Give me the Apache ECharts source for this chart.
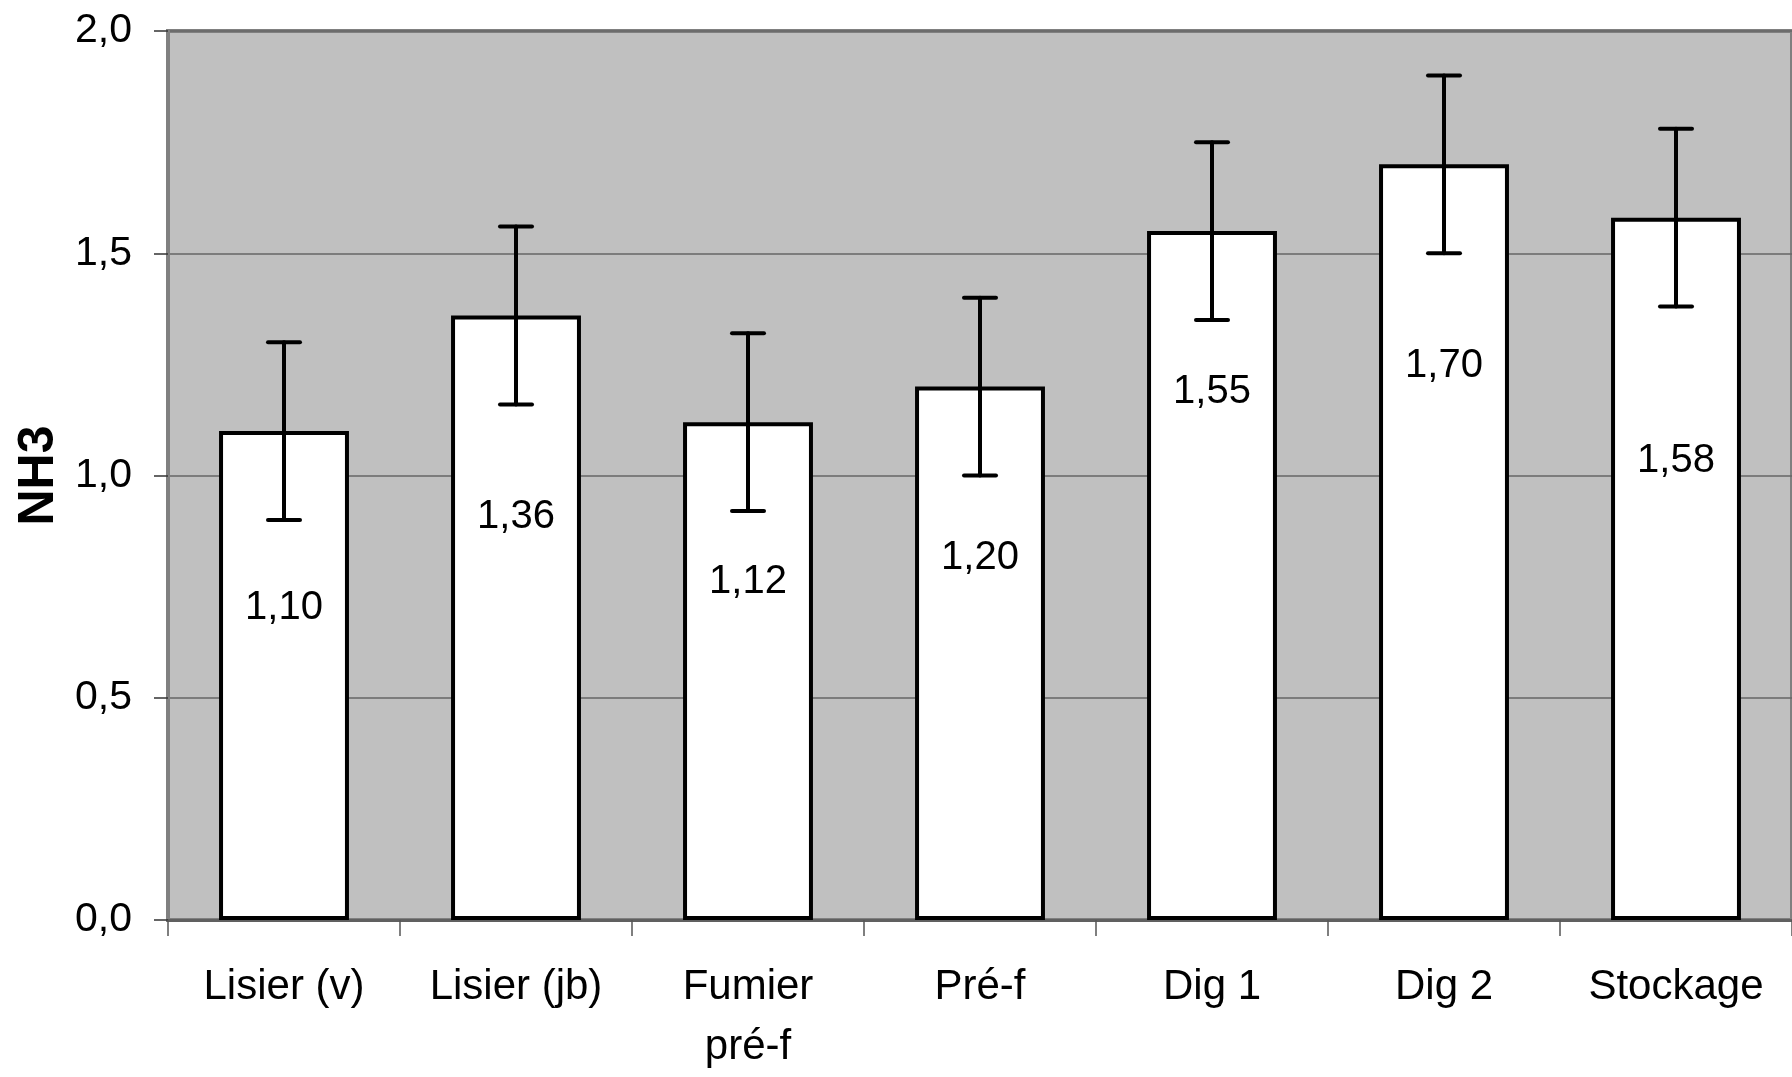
<!DOCTYPE html>
<html>
<head>
<meta charset="utf-8">
<script src="https://cdn.jsdelivr.net/npm/echarts@6/dist/echarts.min.js"></script>
<style>
html,body{margin:0;padding:0;background:#fff;}
#chart{width:1792px;height:1077px;}
</style>
</head>
<body>
<div id="chart"></div>
<script>
const categories = ['Lisier (v)', 'Lisier (jb)', 'Fumier\npré-f', 'Pré-f', 'Dig 1', 'Dig 2', 'Stockage'];
const values = [1.10, 1.36, 1.12, 1.20, 1.55, 1.70, 1.58];
const errorMargin = [0.20, 0.20, 0.20, 0.20, 0.20, 0.20, 0.20];
const yTicks = { min: 0, max: 2, interval: 0.5 };
const yAxisName = 'NH3';

// label placement (pixels below bar top) - style only
const labelDrop = [177, 201, 160, 171, 161, 202, 243];

const font = 'Liberation Sans, Arial, sans-serif';
const chart = echarts.init(document.getElementById('chart'));

const barData = values.map((v, i) => ({
  value: v,
  label: { position: ['50%', labelDrop[i]] }
}));
const errData = values.map((v, i) => [i, v - errorMargin[i], v + errorMargin[i]]);

chart.setOption({
  animation: false,
  backgroundColor: '#ffffff',
  grid: {
    left: 168, top: 31, width: 1628, height: 897,
    show: true, backgroundColor: '#C0C0C0',
    borderColor: '#808080', borderWidth: 4
  },
  xAxis: {
    type: 'category',
    data: categories,
    axisLine: { show: true, lineStyle: { color: '#606060', width: 3 } },
    axisTick: { show: true, length: 16, lineStyle: { color: '#555', width: 1.5 } },
    axisLabel: {
      color: '#000', fontFamily: font, fontSize: 42, margin: 37, lineHeight: 60,
      interval: 0
    },
    splitLine: { show: false }
  },
  yAxis: {
    type: 'value',
    min: yTicks.min, max: yTicks.max, interval: yTicks.interval,
    name: yAxisName,
    nameLocation: 'middle',
    nameRotate: 90,
    nameGap: 101,
    nameTextStyle: { color: '#000', fontFamily: font, fontSize: 50, fontWeight: 'bold' },
    axisLine: { show: true, lineStyle: { color: '#808080', width: 4 } },
    axisTick: { show: true, length: 14, lineStyle: { color: '#333', width: 1.5 } },
    axisLabel: {
      color: '#000', fontFamily: font, fontSize: 41, margin: 36,
      formatter: v => v.toFixed(1).replace('.', ',')
    },
    splitLine: { show: true, lineStyle: { color: '#666', width: 1.5 } }
  },
  series: [
    {
      type: 'bar',
      data: barData,
      barWidth: '56%',
      itemStyle: { color: '#ffffff', borderColor: '#000', borderWidth: 4 },
      label: {
        show: true,
        align: 'center',
        verticalAlign: 'middle',
        color: '#000',
        fontFamily: font,
        fontSize: 40,
        formatter: p => p.value.toFixed(2).replace('.', ',')
      },
      z: 2
    },
    {
      type: 'custom',
      data: errData,
      z: 5,
      renderItem: function (params, api) {
        const x = api.value(0);
        const lo = api.coord([x, api.value(1)]);
        const hi = api.coord([x, api.value(2)]);
        const cap = 16;
        const style = { stroke: '#000', lineWidth: 4, lineCap: 'round' };
        return {
          type: 'group',
          children: [
            { type: 'line', shape: { x1: hi[0], y1: hi[1], x2: lo[0], y2: lo[1] }, style },
            { type: 'line', shape: { x1: hi[0] - cap, y1: hi[1], x2: hi[0] + cap, y2: hi[1] }, style },
            { type: 'line', shape: { x1: lo[0] - cap, y1: lo[1], x2: lo[0] + cap, y2: lo[1] }, style }
          ]
        };
      }
    }
  ]
});
</script>
</body>
</html>
